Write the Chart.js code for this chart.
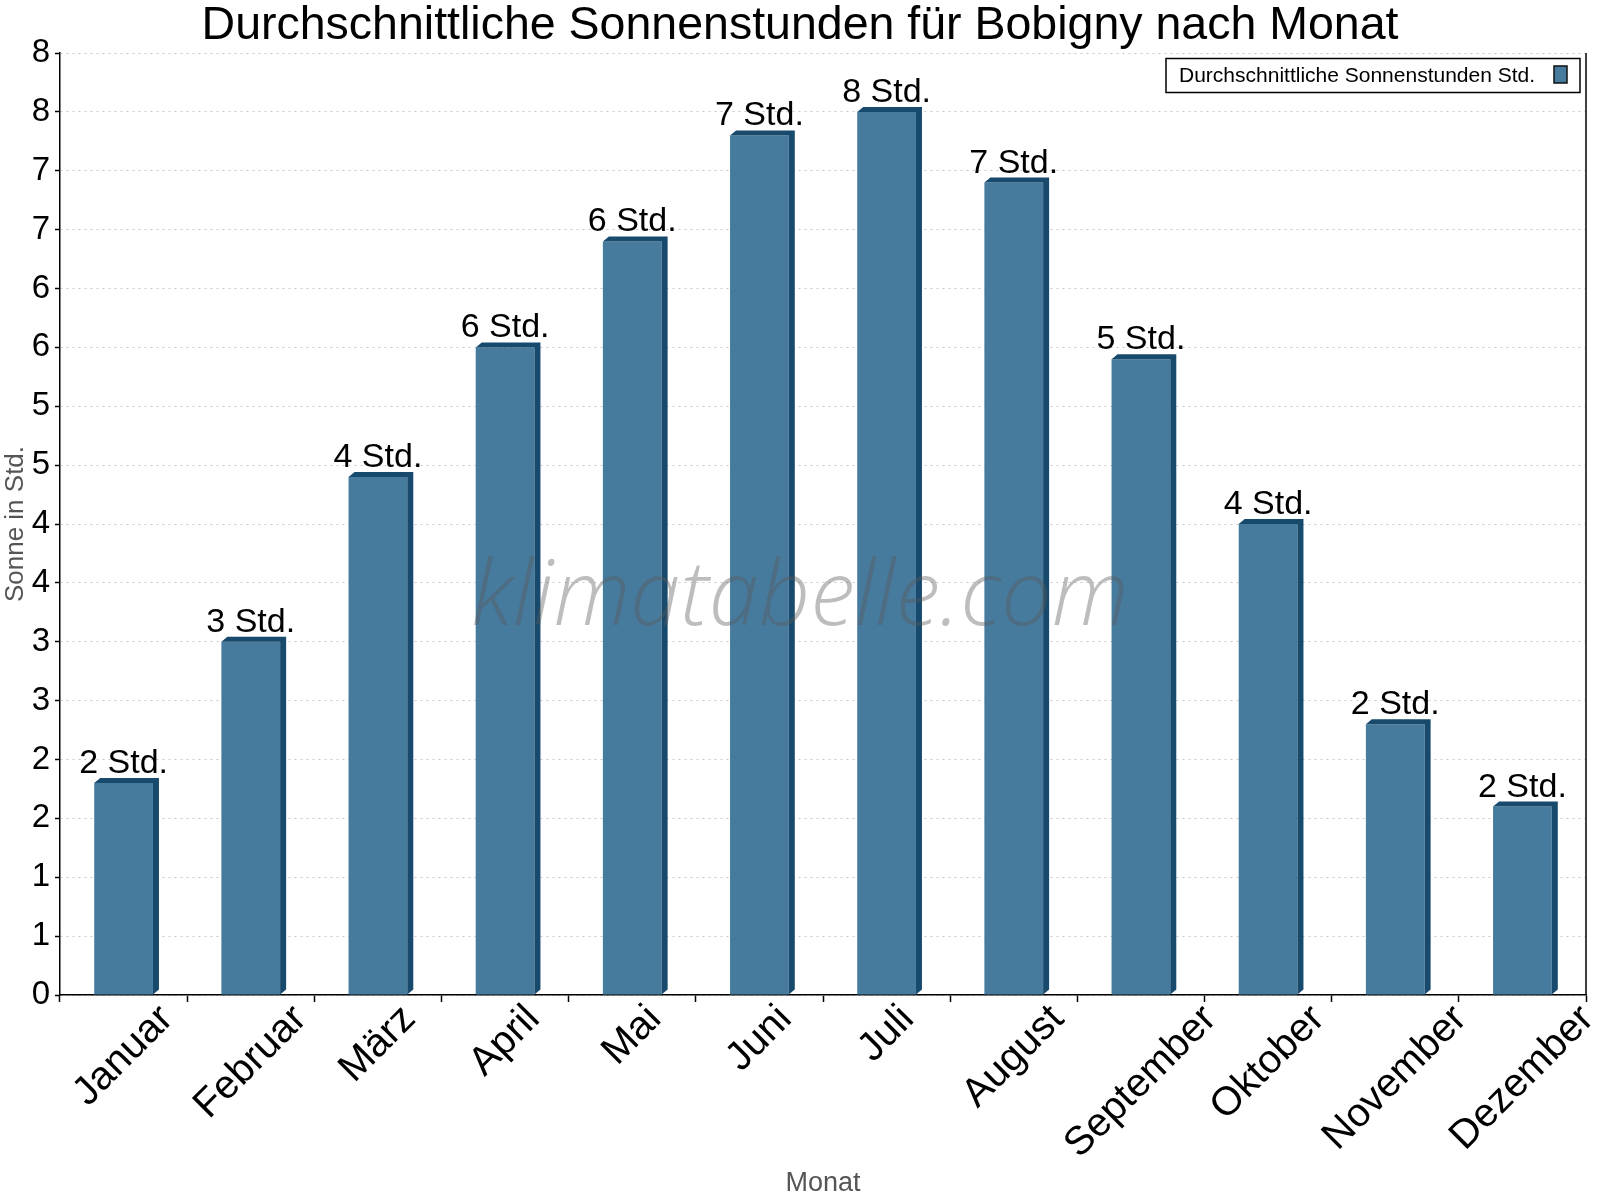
<!DOCTYPE html>
<html>
<head>
<meta charset="utf-8">
<script src="https://cdn.jsdelivr.net/npm/chart.js@4.4.0/dist/chart.umd.min.js"></script>
<style>
	body { margin: 0; background: #fff; }
	#wrap { width: 1600px; height: 1200px; }
</style>
</head>
<body>
<div id="wrap"><canvas id="sun-chart" width="1600" height="1200"></canvas></div>
<script>
const months = ['Januar', 'Februar', 'März', 'April', 'Mai', 'Juni', 'Juli', 'August', 'September', 'Oktober', 'November', 'Dezember'];
const sunHours = [1.8, 3.0, 4.4, 5.5, 6.4, 7.3, 7.5, 6.9, 5.4, 4.0, 2.3, 1.6];
const seriesLabel = 'Durchschnittliche Sonnenstunden Std.';
const chartTitle = 'Durchschnittliche Sonnenstunden für Bobigny nach Monat';
const yMin = 0;
const yMax = 8;
const yStep = 0.5;

const faceColor = '#467b9e';
const darkColor = '#174a6c';
const fontFamily = '"Liberation Sans", Arial, sans-serif';

// 3d side and top of every bar
const bar3d = {
	id: 'bar3d',
	afterDatasetsDraw(chart) {
		const ctx = chart.ctx;
		const dx = 6, dy = 5;
		chart.getDatasetMeta(0).data.forEach(bar => {
			const x0 = bar.x - bar.width / 2;
			const x1 = bar.x + bar.width / 2;
			ctx.save();
			ctx.fillStyle = darkColor;
			ctx.beginPath();
			ctx.moveTo(x0, bar.y);
			ctx.lineTo(x0 + dx, bar.y - dy);
			ctx.lineTo(x1 + dx, bar.y - dy);
			ctx.lineTo(x1 + dx, bar.base - dy);
			ctx.lineTo(x1, bar.base);
			ctx.lineTo(x1, bar.y);
			ctx.closePath();
			ctx.fill();
			ctx.restore();
		});
	}
};

const extras = {
	id: 'extras',
	afterDraw(chart) {
		const ctx = chart.ctx;
		const area = chart.chartArea;
		const xScale = chart.scales.x;

		// title, centred on the whole canvas
		ctx.save();
		ctx.font = '46.5px ' + fontFamily;
		ctx.fillStyle = '#000';
		ctx.textAlign = 'center';
		ctx.textBaseline = 'alphabetic';
		ctx.fillText(chartTitle, chart.width / 2, 39);
		ctx.restore();

		// watermark
		ctx.save();
		ctx.font = 'italic 300 90px "Open Sans", ' + fontFamily;
		ctx.fillStyle = 'rgba(90, 90, 90, 0.4)';
		ctx.textAlign = 'center';
		ctx.textBaseline = 'alphabetic';
		ctx.fillText('klimatabelle.com', 800, 625);
		ctx.restore();

		// right border
		ctx.save();
		ctx.strokeStyle = '#000';
		ctx.lineWidth = 1.5;
		ctx.beginPath();
		ctx.moveTo(area.right, area.top);
		ctx.lineTo(area.right, area.bottom);
		ctx.stroke();
		ctx.restore();

		// value labels
		ctx.save();
		ctx.font = '34px ' + fontFamily;
		ctx.fillStyle = '#000';
		ctx.textAlign = 'center';
		ctx.textBaseline = 'alphabetic';
		chart.getDatasetMeta(0).data.forEach((bar, i) => {
			ctx.fillText(Math.round(sunHours[i]) + ' Std.', bar.x, bar.y - 10);
		});
		ctx.restore();

		// rotated month labels, box centred under the category
		ctx.save();
		const fs = 40;
		ctx.font = fs + 'px ' + fontFamily;
		ctx.fillStyle = '#000';
		ctx.textAlign = 'right';
		ctx.textBaseline = 'middle';
		const c = Math.SQRT1_2;
		months.forEach((m, i) => {
			const w = ctx.measureText(m).width;
			const px = xScale.getPixelForValue(i) + c * w / 2;
			const py = area.bottom + 8 + c * fs * 0.7 / 2;
			ctx.save();
			ctx.translate(px, py);
			ctx.rotate(-Math.PI / 4);
			ctx.fillText(m, 0, 0);
			ctx.restore();
		});
		ctx.restore();

		// legend box
		ctx.save();
		ctx.font = '21px ' + fontFamily;
		const lx = 1166, ly = 58.5, lw = 414, lh = 34;
		ctx.fillStyle = '#fff';
		ctx.fillRect(lx, ly, lw, lh);
		ctx.strokeStyle = '#000';
		ctx.lineWidth = 1.5;
		ctx.strokeRect(lx, ly, lw, lh);
		ctx.fillStyle = '#000';
		ctx.textAlign = 'left';
		ctx.textBaseline = 'middle';
		ctx.fillText(chart.data.datasets[0].label, 1179, ly + lh / 2 + 1);
		ctx.fillStyle = faceColor;
		ctx.fillRect(1554, 66, 13, 17);
		ctx.strokeStyle = '#111';
		ctx.lineWidth = 1.5;
		ctx.strokeRect(1554, 66, 13, 17);
		ctx.restore();
	}
};

new Chart(document.getElementById('sun-chart'), {
	type: 'bar',
	data: {
		labels: months,
		datasets: [{
			label: seriesLabel,
			data: sunHours,
			backgroundColor: faceColor,
			borderWidth: 0,
			barPercentage: 0.462,
			categoryPercentage: 1
		}]
	},
	options: {
		responsive: false,
		devicePixelRatio: 1,
		animation: false,
		layout: { padding: { left: 0, right: 14, top: 53, bottom: 0 } },
		font: { family: fontFamily },
		plugins: {
			legend: { display: false },
			tooltip: { enabled: false },
			title: { display: false }
		},
		scales: {
			x: {
				afterFit: scale => { scale.height = 205; },
				grid: {
					display: true,
					drawOnChartArea: false,
					drawTicks: true,
					tickLength: 7,
					tickColor: '#000',
					tickWidth: 1.5
				},
				border: { display: true, color: '#000', width: 1.5 },
				ticks: { display: false },
				title: {
					display: true,
					text: 'Monat',
					color: '#555',
					font: { family: fontFamily, size: 27 },
					padding: 0
				}
			},
			y: {
				min: yMin,
				max: yMax,
				afterFit: scale => { scale.width = 60; },
				grid: {
					color: '#c8c8c8',
					lineWidth: 1,
					tickLength: 5,
					tickColor: '#000',
					tickWidth: 1.5,
					tickBorderDash: []
				},
				border: { display: true, color: '#000', width: 1.5, dash: [2, 4] },
				ticks: {
					stepSize: yStep,
					padding: 5,
					color: '#000',
					font: { family: fontFamily, size: 33 },
					callback: value => Math.round(value)
				},
				title: {
					display: true,
					text: 'Sonne in Std.',
					color: '#555',
					font: { family: fontFamily, size: 26 },
					padding: 0
				}
			}
		}
	},
	plugins: [bar3d, extras]
});
</script>
</body>
</html>
